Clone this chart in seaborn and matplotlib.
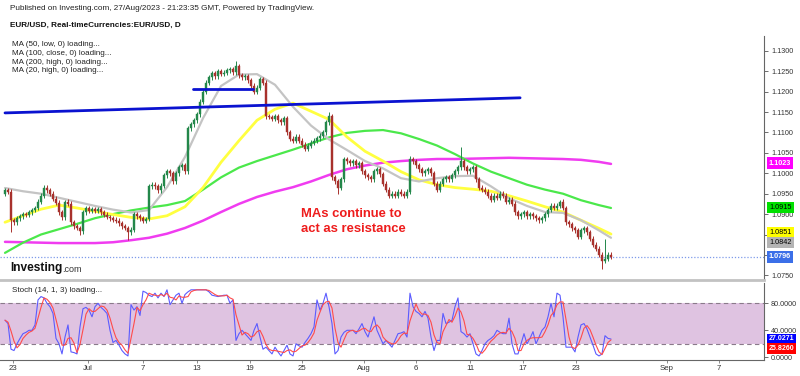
import numpy as np
import pandas as pd
import matplotlib
matplotlib.use("Agg")
import matplotlib.pyplot as plt
import matplotlib.transforms as mtransforms
import seaborn as sns

# ---------------- data ----------------
closes = [
    1.0959, 1.0955, 1.0885, 1.0880, 1.0890, 1.0895, 1.0900, 1.0898, 1.0905, 1.0910,
    1.0915, 1.0930, 1.0945, 1.0965, 1.0958, 1.0950, 1.0938, 1.0928, 1.0905, 1.0892,
    1.0930, 1.0925, 1.0880, 1.0870, 1.0866, 1.0858, 1.0905, 1.0915, 1.0908, 1.0912,
    1.0908, 1.0912, 1.0905, 1.0898, 1.0893, 1.0890, 1.0886, 1.0884, 1.0878, 1.0870,
    1.0866, 1.0855, 1.0862, 1.0900, 1.0895, 1.0890, 1.0884, 1.0888, 1.0968, 1.0972,
    1.0968, 1.0958, 1.0970, 1.0995, 1.1005, 1.1000, 1.0980, 1.1000, 1.1015, 1.1020,
    1.1005, 1.1110, 1.1120, 1.1130, 1.1145, 1.1175, 1.1200, 1.1222, 1.1235, 1.1245,
    1.1238, 1.1250, 1.1244, 1.1246, 1.1252, 1.1255, 1.1248, 1.1262, 1.1240, 1.1235,
    1.1238, 1.1228, 1.1215, 1.1200, 1.1210, 1.1230, 1.1222, 1.1140, 1.1138, 1.1134,
    1.1140, 1.1130, 1.1125, 1.1135, 1.1100, 1.1085, 1.1080, 1.1090, 1.1080, 1.1070,
    1.1060, 1.1068, 1.1075, 1.1080, 1.1086, 1.1092, 1.1100, 1.1125, 1.1140, 1.0990,
    1.0980, 1.0965, 1.0985, 1.1035, 1.1030, 1.1025, 1.1030, 1.1020, 1.1025, 1.1005,
    1.0995, 1.0990, 1.0985, 1.1005, 1.1010, 1.0998, 1.0975, 1.0960, 1.0945, 1.0950,
    1.0945, 1.0955, 1.0950, 1.0945, 1.0955, 1.1035, 1.1030, 1.1020, 1.1010, 1.1000,
    1.1005, 1.1010, 1.1000, 1.0975, 1.0960, 1.0975, 1.0985, 1.0990, 1.0985, 1.0995,
    1.1005, 1.1015, 1.1030, 1.1015, 1.1005, 1.1010, 1.1015, 1.0985, 1.0965, 1.0960,
    1.0955, 1.0945, 1.0935, 1.0945, 1.0940, 1.0950, 1.0945, 1.0930, 1.0935, 1.0925,
    1.0905, 1.0895, 1.0900, 1.0905, 1.0895, 1.0900, 1.0895, 1.0890, 1.0885, 1.0890,
    1.0900, 1.0910, 1.0920, 1.0915, 1.0920, 1.0930, 1.0915, 1.0880, 1.0875, 1.0865,
    1.0860, 1.0845, 1.0860, 1.0865, 1.0855, 1.0840, 1.0825, 1.0815, 1.0800, 1.0785,
    1.0790, 1.0800, 1.0796,
]
first_open = 1.0950
spike_highs = {13: 1.0972, 20: 1.0935, 43: 1.0905, 48: 1.0975, 77: 1.1276, 108: 1.1150,
               113: 1.1040, 135: 1.1042, 152: 1.1065, 185: 1.0935, 200: 1.0840}
spike_lows = {2: 1.0855, 25: 1.0850, 41: 1.0837, 100: 1.1055, 111: 1.0950, 199: 1.0765}

ma_index = [0, 6, 12, 18, 24, 30, 36, 42, 48, 54, 60, 66, 72, 78, 84, 90, 96, 102,
            108, 114, 120, 126, 132, 138, 144, 150, 156, 162, 168, 174, 180, 186, 192, 198, 202]
ma20_high = [1.0964, 1.0956, 1.0950, 1.0940, 1.0930, 1.0920, 1.0911, 1.0904, 1.0910, 1.0966,
             1.1040, 1.1135, 1.1214, 1.1242, 1.1243, 1.1217, 1.1163, 1.1117, 1.1083, 1.1057,
             1.1030, 1.1012, 1.0988, 1.0980, 1.0988, 1.0993, 1.0994, 1.0968, 1.0939, 1.0920,
             1.0905, 1.0903, 1.0885, 1.0860, 1.0842]
ma50_low = [1.0880, 1.0896, 1.0912, 1.0922, 1.0915, 1.0907, 1.0899, 1.0892, 1.0888, 1.0896,
            1.0918, 1.0965, 1.1027, 1.1080, 1.1130, 1.1157, 1.1172, 1.1152, 1.1132, 1.1089,
            1.1054, 1.1030, 1.1004, 1.0984, 1.0972, 1.0965, 1.0961, 1.0956, 1.0945, 1.0932,
            1.0918, 1.0905, 1.0885, 1.0865, 1.0851]
ma100_close = [1.0805, 1.0830, 1.0850, 1.0863, 1.0876, 1.0890, 1.0900, 1.0909, 1.0916, 1.0922,
               1.0932, 1.0960, 1.0990, 1.1014, 1.1030, 1.1044, 1.1058, 1.1073, 1.1088, 1.1099,
               1.1104, 1.1106, 1.1098, 1.1084, 1.1068, 1.1047, 1.1024, 1.1004, 1.0988, 1.0972,
               1.0960, 1.0950, 1.0934, 1.0922, 1.0915]
ma200_high = [1.0832, 1.0831, 1.0830, 1.0829, 1.0829, 1.0829, 1.0831, 1.0836, 1.0842, 1.0852,
              1.0866, 1.0884, 1.0905, 1.0925, 1.0942, 1.0955, 1.0966, 1.0980, 1.0996, 1.1010,
              1.1019, 1.1026, 1.1030, 1.1033, 1.1035, 1.1035, 1.1036, 1.1037, 1.1038, 1.1037,
              1.1036, 1.1035, 1.1033, 1.1028, 1.1023]

trend_long_x = [0, 171.7]
trend_long_y = [1.1148, 1.1185]
trend_short_x = [62.7, 82.7]
trend_short_y = [1.1207, 1.1207]

stoch_k = [
    55, 50, 12, 10, 20, 28, 35, 37, 40, 40, 48, 85, 90, 88, 80, 75, 65, 28, 20, 5,
    30, 48, 8, 7, 5, 45, 72, 74, 70, 60, 75, 80, 74, 70, 65, 40, 22, 25, 18, 10,
    5, 2, 78, 70, 75, 62, 98, 96, 92, 90, 95, 88, 95, 90, 100, 78, 85, 92, 95, 80,
    93, 97, 100, 100, 100, 100, 100, 100, 97, 92, 91, 90, 91, 92, 92, 80, 85, 25, 35, 40,
    35, 30, 25, 40, 50, 30, 12, 15, 10, 5, 15, 8, 2, 10, 18, 5, 2, 20, 17, 15,
    22, 28, 35, 45, 85, 70, 80, 95, 75, 50, 5, 10, 30, 37, 40, 40, 40, 35, 42, 50,
    38, 30, 45, 60, 40, 30, 20, 25, 20, 15, 25, 35, 36, 38, 30, 95, 75, 68, 65, 60,
    68, 58, 30, 10, 25, 25, 65, 50, 52, 55, 75, 88, 38, 35, 30, 35, 20, 5, 2, 10,
    20, 25, 28, 32, 40, 37, 35, 35, 58, 20, 5, 5, 20, 35, 20, 28, 38, 20, 30, 40,
    45, 60, 80, 60, 95, 92, 60, 15, 15, 15, 8, 30, 48, 50, 42, 30, 18, 5, 2, 5,
    32, 28, 27.03,
]
stoch_d = [
    55, 52, 39, 24, 14, 19, 28, 33, 37, 39, 43, 58, 74, 88, 86, 81, 73, 56, 38, 18,
    18, 28, 29, 21, 7, 19, 41, 64, 72, 68, 68, 72, 76, 75, 70, 58, 42, 29, 22, 18,
    11, 6, 28, 50, 74, 69, 78, 85, 95, 93, 92, 91, 93, 91, 95, 89, 88, 85, 91, 89,
    89, 90, 97, 99, 100, 100, 100, 100, 99, 96, 93, 91, 91, 91, 92, 88, 86, 63, 48, 33,
    37, 35, 30, 32, 38, 40, 31, 19, 12, 10, 10, 9, 8, 7, 10, 11, 8, 9, 13, 17,
    18, 22, 28, 36, 55, 67, 78, 82, 83, 73, 43, 22, 15, 26, 36, 39, 40, 38, 39, 42,
    43, 39, 38, 45, 48, 43, 30, 25, 22, 20, 20, 25, 32, 36, 35, 54, 67, 79, 69, 64,
    64, 62, 52, 33, 22, 20, 38, 47, 56, 52, 61, 73, 67, 54, 34, 33, 28, 20, 9, 6,
    11, 18, 24, 28, 33, 36, 37, 36, 43, 38, 28, 10, 10, 20, 25, 28, 29, 29, 29, 30,
    38, 48, 62, 67, 78, 82, 82, 56, 30, 15, 13, 18, 29, 43, 47, 41, 30, 18, 8, 4,
    13, 22, 25.83,
]

date_ticks = [2.57, 27.67, 46, 64, 81.67, 99, 119.67, 137, 155, 172.67, 190.33, 220.67, 238]
date_labels = ["23", "Jul", "7", "13", "19", "25", "Aug", "6", "11", "17", "23", "Sep", "7"]

price_ticks = [1.0750, 1.0800, 1.0850, 1.0900, 1.0950, 1.1000, 1.1050,
               1.1100, 1.1150, 1.1200, 1.1250, 1.1300]
hidden_price_labels = [1.0800, 1.0850]   # covered by the value tags in the reference
last_price = 1.0796
price_tags = [("1.1023", 1.1025, "#ff00ff", "white"),
              ("1.0915", 1.0917, "#00e000", "black"),
              ("1.0851", 1.0855, "#ffff00", "black"),
              ("1.0842", 1.0831, "#b4b4b4", "black"),
              ("1.0796", 1.0795, "#3b6fe8", "white")]
stoch_ticks = [0, 40, 80]
stoch_tags = [("27.0271", 27.5, "#0000ff", "white"), ("25.8260", 13.0, "#ff0000", "white")]

ma_legend = ["MA (50, low, 0) loading...", "MA (100, close, 0) loading...",
             "MA (200, high, 0) loading...", "MA (20, high, 0) loading..."]

# ---------------- style ----------------
sns.set_style("white")
plt.rcParams["font.family"] = ["Liberation Sans", "DejaVu Sans"]

W, H = 800, 376
fig = plt.figure(figsize=(8.0, 3.76), dpi=100)

def fx(px):
    return px / W

def fy(py):
    return 1 - py / H

x_left, x_right = -1.667, 253.0
ax = fig.add_axes([0, fy(280), fx(764), fy(36) - fy(280)])
ax2 = fig.add_axes([0, fy(360), fx(764), fy(283) - fy(360)])

# ---------------- main price panel ----------------
idx = np.arange(len(closes))
c = np.array(closes)
o = np.array([first_open] + closes[:-1])
wick = 0.0006
hi = np.maximum(o, c) + wick
lo = np.minimum(o, c) - wick
for k, v in spike_highs.items():
    hi[k] = v
for k, v in spike_lows.items():
    lo[k] = v
up = c >= o
cols = np.where(up, "#23874a", "#a8312c")

ma_df = pd.DataFrame({"i": ma_index, "ma20": ma20_high, "ma50": ma50_low,
                      "ma100": ma100_close, "ma200": ma200_high})
sns.lineplot(data=ma_df, x="i", y="ma200", ax=ax, color="#f03cf0", lw=1.8, zorder=1)
sns.lineplot(data=ma_df, x="i", y="ma100", ax=ax, color="#4be84b", lw=1.6, zorder=1)
sns.lineplot(data=ma_df, x="i", y="ma50", ax=ax, color="#ffff40", lw=2.0, zorder=1)
sns.lineplot(data=ma_df, x="i", y="ma20", ax=ax, color="#c4c4c4", lw=1.6, zorder=1)

ax.vlines(idx, lo, hi, colors=cols, lw=0.7, zorder=2)
body = np.abs(c - o)
body = np.where(body < 0.00008, 0.00008, body)
ax.bar(idx, body, bottom=np.minimum(o, c), width=0.75, color=cols, edgecolor=cols,
       linewidth=0.3, zorder=3)

sns.lineplot(x=trend_long_x, y=trend_long_y, ax=ax, color="#0a12d0", lw=2.0, zorder=4)
sns.lineplot(x=trend_short_x, y=trend_short_y, ax=ax, color="#0a12d0", lw=2.0, zorder=4)

ax.axhline(last_price, color="#7f9bea", lw=0.9, ls=(0, (1, 1.5)), zorder=1)

ax.set_xlim(x_left, x_right)
ax.set_ylim(1.07385, 1.13365)
ax.set_xlabel("")
ax.set_ylabel("")
ax.set_xticks([])
ax.yaxis.tick_right()
ax.set_yticks(price_ticks)
ax.set_yticklabels(["" if t in hidden_price_labels else f"{t:.4f}" for t in price_ticks])
ax.tick_params(axis="y", right=True, length=3, width=0.6, color="#555555",
               labelsize=5.2, labelcolor="#333333", pad=2)
for s in ["top", "left"]:
    ax.spines[s].set_visible(False)
ax.spines["right"].set_color("#666666")
ax.spines["right"].set_linewidth(0.8)
ax.spines["bottom"].set_color("#c2c2c2")
ax.spines["bottom"].set_linewidth(2.0)

trans = mtransforms.blended_transform_factory(ax.transAxes, ax.transData)
for lab, val, bg, fg in price_tags:
    ax.text(1.0065, val, lab, transform=trans, ha="left", va="center", fontsize=5.2,
            color=fg, fontweight="bold" if fg == "white" else "normal",
            bbox=dict(boxstyle="square,pad=0.3", fc=bg, ec="none"), zorder=10, clip_on=False)

fig.text(fx(301), fy(214), "MAs continue to", color="#ee1c1c", fontsize=9.4,
         fontweight="bold", va="center", ha="left")
fig.text(fx(301), fy(229), "act as resistance", color="#ee1c1c", fontsize=9.4,
         fontweight="bold", va="center", ha="left")

fig.text(fx(10), fy(268), "Investing", fontsize=8.6, fontweight="bold", color="#111111",
         va="center", ha="left")
fig.text(fx(62), fy(269), ".com", fontsize=6.5, color="#333333", va="center", ha="left")

# ---------------- header ----------------
fig.text(fx(10), fy(9), "Published on Investing.com, 27/Aug/2023 - 21:23:35 GMT, Powered by TradingView.",
         fontsize=5.9, color="#222222", va="center", ha="left")
fig.text(fx(10), fy(25), "EUR/USD, Real-timeCurrencies:EUR/USD, D",
         fontsize=5.9, fontweight="bold", color="#111111", va="center", ha="left")
for n, t in enumerate(ma_legend):
    fig.text(fx(12), fy(45 + 8.5 * n), t, fontsize=5.8, color="#222222", va="center", ha="left")

# ---------------- stochastic panel ----------------
st_df = pd.DataFrame({"i": idx, "k": stoch_k, "d": stoch_d})
ax2.axhspan(20, 80, color="#dfc3e1", zorder=0, lw=0)
ax2.axhline(80, color="#8a7a8a", lw=0.8, ls=(0, (4, 3)), zorder=1)
ax2.axhline(20, color="#8a7a8a", lw=0.8, ls=(0, (4, 3)), zorder=1)
sns.lineplot(data=st_df, x="i", y="k", ax=ax2, color="#5b5bff", lw=0.8, zorder=2)
sns.lineplot(data=st_df, x="i", y="d", ax=ax2, color="#ff4b4b", lw=0.8, zorder=3)
ax2.set_xlim(x_left, x_right)
ax2.set_ylim(-4.0, 110.1)
ax2.set_xlabel("")
ax2.set_ylabel("")
ax2.yaxis.tick_right()
ax2.set_yticks(stoch_ticks)
ax2.set_yticklabels([f"{t:.4f}" for t in stoch_ticks])
ax2.tick_params(axis="y", right=True, length=3, width=0.6, color="#555555",
                labelsize=5.2, labelcolor="#333333", pad=2)
ax2.set_xticks(date_ticks)
ax2.set_xticklabels(date_labels)
ax2.tick_params(axis="x", bottom=True, length=2, width=0.6, color="#777777",
                labelsize=5.6, labelcolor="#333333", pad=1.5)
for s in ["top", "left"]:
    ax2.spines[s].set_visible(False)
ax2.spines["right"].set_color("#666666")
ax2.spines["right"].set_linewidth(0.8)
ax2.spines["bottom"].set_color("#666666")
ax2.spines["bottom"].set_linewidth(0.8)

trans2 = mtransforms.blended_transform_factory(ax2.transAxes, ax2.transData)
for lab, val, bg, fg in stoch_tags:
    ax2.text(1.0065, val, lab, transform=trans2, ha="left", va="center", fontsize=5.0,
             color=fg, fontweight="bold",
             bbox=dict(boxstyle="square,pad=0.25", fc=bg, ec="none"), zorder=10, clip_on=False)
fig.text(fx(12), fy(291), "Stoch (14, 1, 3) loading...", fontsize=5.8, color="#222222",
         va="center", ha="left")

fig.savefig("out.png", dpi=100)
